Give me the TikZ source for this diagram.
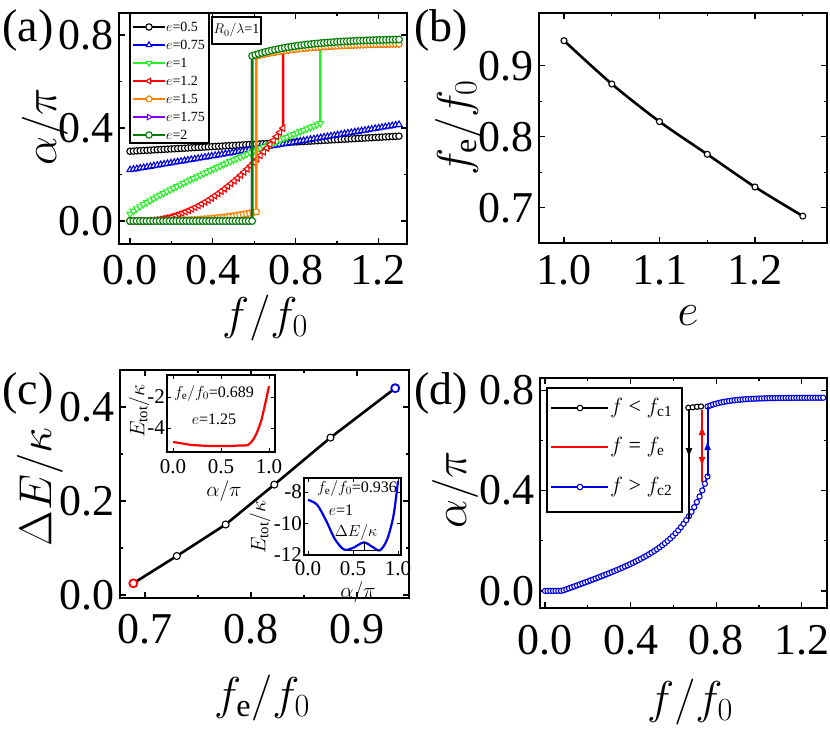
\documentclass[tikz,border=0pt]{standalone}
\usepackage{fix-cm}
\usepackage{fontspec}
\setmainfont{Liberation Serif}
\newfontfamily\tms{Liberation Serif}
\usetikzlibrary{plotmarks}
\usetikzlibrary{arrows.meta}
\definecolor{dkgreen}{RGB}{0,125,0}
\definecolor{ltgreen}{RGB}{40,240,40}
\definecolor{orng}{RGB}{255,130,0}
\definecolor{vio}{RGB}{130,0,255}
\definecolor{myblue}{RGB}{0,0,230}
\tikzset{
  frame/.style={line width=1.8pt},
  tick/.style={line width=1.3pt},
  curve/.style={line width=2.6pt},
  mk/.style={mark options={fill=white,solid,line width=1.1pt,rotate=#1}},
  mk/.default=0,
  ticklab/.style={font=\tms\fontsize{44}{46}\selectfont},
  axlab/.style={font=\tms\fontsize{46}{48}\selectfont},
  panlab/.style={font=\tms\fontsize{46}{48}\selectfont},
  leglab/.style={font=\tms\fontsize{14}{15}\selectfont,anchor=west,inner sep=1pt},
  inlab/.style={font=\tms\fontsize{21}{22}\selectfont},
  intext/.style={font=\tms\fontsize{16}{17}\selectfont,inner sep=0pt}
}
\begin{document}
\begin{tikzpicture}[x=1pt,y=-1pt]
\useasboundingbox (0,0) rectangle (830,735);
% ---------- (a)
\node[panlab] (laba) at (28,30) {(a)};
\draw[frame] (119,13) rectangle (407,244);
\foreach \v/\l in {0/0.0,0.4/0.4,0.8/0.8,1.2/1.2} {
  \draw[tick] ({130+207*\v},244) -- ++(0,-6) ({130+207*\v},13) -- ++(0,6);
  \node[ticklab] at ({130+207*\v},270) {\l};}
\foreach \v in {0.2,0.6,1.0} \draw[tick] ({130+207*\v},244) -- ++(0,-3) ({130+207*\v},13) -- ++(0,3);
\foreach \v/\l in {0/0.0,0.4/0.4,0.8/0.8} {
  \draw[tick] (119,{221-232.5*\v}) -- ++(6,0) (407,{221-232.5*\v}) -- ++(-6,0);
  \node[ticklab,anchor=east] at (117,{221-232.5*\v}) {\l};}
\foreach \v in {0.2,0.6} \draw[tick] (119,{221-232.5*\v}) -- ++(3,0) (407,{221-232.5*\v}) -- ++(-3,0);
\node[axlab,rotate=90] (ya) at (45,127) {$\alpha/\pi$};
\node[axlab] (xa) at (265,318) {$f/f_0$};
% curves
\draw[curve,black] plot[mk,mark=*,mark size=3.2pt,domain=0:1.3,samples=80] ({130+207*\x},{221-232.5*(0.3+0.05*\x)});
\draw[curve,myblue] plot[mk,mark=triangle*,mark size=3.6pt,domain=0:1.3,samples=80] ({130+207*\x},{221-232.5*(0.22+0.15*\x)});
\draw[curve,ltgreen] plot[mk=180,mark=triangle*,mark size=3.6pt,domain=0:0.92,samples=58] ({130+207*\x},{221-232.5*(0.03+0.39*(\x/0.92)^0.85)})
  -- (320.4,46.9);
\draw[curve,red] plot[mk=90,mark=triangle*,mark size=3.6pt,domain=0:0.74,samples=48] ({130+207*\x},{221-232.5*(0.4*(max(\x-0.05,0)/0.69)^2)})
  -- (283.2,50.8);
\draw[curve,orng] plot[mk,mark=pentagon*,mark size=3.4pt,domain=0:0.61,samples=40] ({130+207*\x},{221-232.5*(0.04*(\x/0.61)^3)})
  -- (256.3,56);
\foreach \c in {ltgreen,red,orng}
  \draw[curve,\c] plot[mk,mark=*,mark size=3pt,domain=0.61:1.3,samples=45] ({130+207*\x},{221-232.5*(0.765-0.06*exp(-4*(\x-0.59)))});
\draw[curve,vio] plot[mk=-90,mark=triangle*,mark size=3.4pt,domain=0:0.59,samples=38] ({130+207*\x},221) -- (252.1,56);
\draw[curve,dkgreen] plot[mk,mark=*,mark size=3.4pt,domain=0:0.59,samples=38] ({130+207*\x},221) -- (252.1,56);
\draw[curve,dkgreen] plot[mk,mark=*,mark size=3.4pt,domain=0.59:1.3,samples=46] ({130+207*\x},{221-232.5*(0.785-0.075*exp(-4*(\x-0.59)))});
% legend (a)
\draw[frame,fill=white] (130,13) rectangle (209,143);
\foreach \y/\c/\m/\r/\t [count=\i] in {27/black/*/0/0.5, 45/myblue/triangle*/0/0.75, 63/ltgreen/triangle*/180/1, 81/red/triangle*/90/1.2, 99/orng/pentagon*/0/1.5, 117/vio/triangle*/-90/1.75, 135/dkgreen/*/0/2} {
  \draw[curve,\c] (133,\y) -- (165,\y);
  \path[\c] plot[mk=\r,mark=\m,mark size=3.2pt] coordinates {(149,\y)};
  \node[leglab] (lega\i) at (165,\y) {$e$=\t};}
\draw[frame,fill=white] (212,17) rectangle (261,44);
\node[leglab,anchor=center] (ratio) at (236.5,30.5) {$R_0/\lambda$=1};
% ---------- (b)
\node[panlab] (labb) at (441,30) {(b)};
\draw[frame] (539,13) rectangle (827,243);
\foreach \v in {1.0,1.1,1.2} {
  \draw[tick] ({564+955*(\v-1)},243) -- ++(0,-6) ({564+955*(\v-1)},13) -- ++(0,6);
  \node[ticklab] at ({564+955*(\v-1)},270) {\v};}
\foreach \v in {1.05,1.15,1.25} \draw[tick] ({564+955*(\v-1)},243) -- ++(0,-3) ({564+955*(\v-1)},13) -- ++(0,3);
\foreach \v in {0.7,0.8,0.9} {
  \draw[tick] (539,{136.7-710*(\v-0.8)}) -- ++(6,0) (827,{136.7-710*(\v-0.8)}) -- ++(-6,0);
  \node[ticklab,anchor=east] at (537,{136.7-710*(\v-0.8)}) {\v};}
\foreach \v in {0.75,0.85} \draw[tick] (539,{136.7-710*(\v-0.8)}) -- ++(3,0) (827,{136.7-710*(\v-0.8)}) -- ++(-3,0);
\node[axlab,rotate=90] (yb) at (458,128) {$f_{\mathrm{e}}/f_0$};
\node[axlab] (xb) at (688,316) {$e$};
\draw[curve,black] plot[smooth,mk,mark=*,mark size=3pt] coordinates {(564,40.7) (611.8,84.0) (659.5,121.6) (707.3,154.3) (755,187) (802.8,216.1)};
% ---------- (c)
\node[panlab] (labc) at (28,393) {(c)};
\draw[frame] (120,370) rectangle (409,598);
\foreach \v in {0.7,0.8,0.9} {
  \draw[tick] ({145+1060*(\v-0.7)},598) -- ++(0,-6) ({145+1060*(\v-0.7)},370) -- ++(0,6);
  \node[ticklab] at ({145+1060*(\v-0.7)},629) {\v};}
\foreach \v in {0.75,0.85} \draw[tick] ({145+1060*(\v-0.7)},598) -- ++(0,-3) ({145+1060*(\v-0.7)},370) -- ++(0,3);
\foreach \v/\l in {0/0.0,0.2/0.2,0.4/0.4} {
  \draw[tick] (120,{595-470*\v}) -- ++(6,0) (409,{595-470*\v}) -- ++(-6,0);
  \node[ticklab,anchor=east] at (118,{595-470*\v}) {\l};}
\foreach \v in {0.1,0.3} \draw[tick] (120,{595-470*\v}) -- ++(3,0) (409,{595-470*\v}) -- ++(-3,0);
\node[axlab,rotate=90] (yc) at (40,487) {$\Delta E/\kappa$};
\node[axlab] (xc) at (262,698) {$f_{\mathrm{e}}/f_0$};
\draw[curve,black] plot[mk,mark=*,mark size=3.5pt] coordinates {(133.3,583.3) (176.8,556) (225.6,524.5) (274.3,484.6) (330.5,437.6) (395.2,388.2)};
\draw[red,line width=1.8pt,fill=white] (133.3,583.3) circle (4);
\draw[myblue,line width=1.8pt,fill=white] (395.2,388.2) circle (4);
% inset 1
\draw[line width=1.2pt,fill=white] (167,375) rectangle (275,452);
\foreach \v/\l in {0/0.0,0.5/0.5,1/1.0} {
  \draw[tick,line width=0.9pt] ({173+96*\v},452) -- ++(0,-4) ({173+96*\v},375) -- ++(0,4);
  \node[inlab] at ({173+96*\v},467) {\l};}
\foreach \v/\l in {-2/-2,-4/-4} {
  \draw[tick,line width=0.9pt] (167,{397-15.5*(\v+2)}) -- ++(4,0) (275,{397-15.5*(\v+2)}) -- ++(-4,0);
  \node[inlab,anchor=east,inner sep=1pt] at (166,{397-15.5*(\v+2)}) {\l};}
\node[inlab,rotate=90] (yi1) at (139,411) {$E_{\mathrm{tot}}/\kappa$};
\node[inlab] (xi1) at (224,491) {$\alpha/\pi$};
\node[intext] (fe1) at (214,393) {$f_{\mathrm{e}}/f_0$=0.689};
\node[intext] (e1) at (214,419) {$e$=1.25};
\draw[red,line width=2.2pt] plot[smooth] coordinates {(173,442) (182.6,443.5) (192.2,445) (211.4,446) (230.6,446) (240.2,445.4) (247.9,445) (254.6,437.3) (261.3,420.3) (269,386.2)};
% inset 2
\draw[line width=1.2pt,fill=white] (304,478) rectangle (401,555);
\foreach \v/\l in {0/0.0,0.5/0.5,1/1.0} {
  \draw[tick,line width=0.9pt] ({308+90*\v},555) -- ++(0,-4) ({308+90*\v},478) -- ++(0,4);
  \node[inlab] at ({308+90*\v},569) {\l};}
\foreach \v/\l in {-8/-8,-10/-10,-12/-12} {
  \draw[tick,line width=0.9pt] (304,{492-15.75*(\v+8)}) -- ++(4,0) (401,{492-15.75*(\v+8)}) -- ++(-4,0);
  \node[inlab,anchor=east,inner sep=1pt] at (303,{492-15.75*(\v+8)}) {\l};}
\node[inlab,rotate=90] (yi2) at (260,527) {$E_{\mathrm{tot}}/\kappa$};
\node[inlab] (xi2) at (358,592) {$\alpha/\pi$};
\node[intext] (fe2) at (357,488) {$f_{\mathrm{e}}/f_0$=0.936};
\node[intext] (e2) at (341,510) {$e$=1};
\node[intext] (de2) at (356,532) {$\Delta E/\kappa$};
\draw[myblue,line width=2.2pt] plot[smooth] coordinates {(308,499.9) (317,504.6) (326,520.4) (335,539.3) (344,549.5) (353,547.9) (363.8,542.4) (372.8,547.1) (380,550.3) (387.2,539.3) (393.5,515.6) (398,481)};
\draw[line width=0.5pt] (347,550.3) -- (380,550.3) (363.8,542.4) -- (363.8,550.3);
% ---------- (d)
\node[panlab] (labd) at (441,393) {(d)};
\draw[frame] (540,378) rectangle (827,608);
\foreach \v/\l in {0/0.0,0.4/0.4,0.8/0.8,1.2/1.2} {
  \draw[tick] ({545+214*\v},608) -- ++(0,-6) ({545+214*\v},378) -- ++(0,6);
  \node[ticklab] at ({545+214*\v},640) {\l};}
\foreach \v in {0.2,0.6,1.0} \draw[tick] ({545+214*\v},608) -- ++(0,-3) ({545+214*\v},378) -- ++(0,3);
\foreach \v/\l in {0/0.0,0.4/0.4,0.8/0.8} {
  \draw[tick] (540,{591-251*\v}) -- ++(6,0) (827,{591-251*\v}) -- ++(-6,0);
  \node[ticklab,anchor=east] at (538,{591-251*\v}) {\l};}
\foreach \v in {0.2,0.6} \draw[tick] (540,{591-251*\v}) -- ++(3,0) (827,{591-251*\v}) -- ++(-3,0);
\node[axlab,rotate=90] (yd) at (455,490) {$\alpha/\pi$};
\node[axlab] (xd) at (690,702) {$f/f_0$};
\draw[line width=1.6pt,myblue] plot[mk,mark=*,mark size=2.6pt,domain=0:0.76,samples=62] ({545+214*\x},{591-251*(max(0,0.3*(\x-0.08))+0.0004*exp(8.5*\x))});
\draw[line width=1.6pt,myblue] plot[mk,mark=*,mark size=2.6pt,domain=0.76:1.3,samples=44] ({545+214*\x},{591-251*(0.77-0.035*exp(-10*(\x-0.76)))});
\draw[line width=1.6pt,black] plot[mk,mark=*,mark size=2.6pt] coordinates {(688.4,407.8) (692.7,407.3) (697,406.8) (701,406.5)};
\coordinate (bktop) at (689,409);
\coordinate (bkbot) at (689,519);
\coordinate (rdtop) at (702,410);
\coordinate (rdbot) at (702,482);
\coordinate (rdmid) at (702,446);
\coordinate (bltop) at (707.6,406.5);
\coordinate (blbot) at (707.6,475.5);
\draw[line width=1.5pt,black] (bktop) -- (bkbot);
\draw[line width=1.5pt,black,-{Latex[length=10pt,width=7pt]}] (bktop) -- (689,458);
\draw[line width=2pt,red] (rdtop) -- (rdbot);
\draw[line width=2pt,red,-{Latex[length=10pt,width=7pt]}] (rdmid) -- (702,425);
\draw[line width=2pt,red,-{Latex[length=10pt,width=7pt]}] (rdmid) -- (702,467);
\draw[line width=2pt,myblue] (blbot) -- (bltop);
\draw[line width=2pt,myblue,-{Latex[length=10pt,width=7pt]}] (blbot) -- (707.6,440);
% legend (d)
\draw[line width=1.2pt,fill=white] (547,388) rectangle (682,512);
\foreach \y/\c/\t [count=\i] in {408/black/{$f$ < $f_{\mathrm{c1}}$}, 447/red/{$f$ = $f_{\mathrm{e}}$}, 487/myblue/{$f$ > $f_{\mathrm{c2}}$}} {
  \draw[line width=2.4pt,\c] (551,\y) -- (608,\y);
  \node[leglab,font=\tms\fontsize{22}{23}\selectfont] (legd\i) at (609,\y) {\t};}
\path[black] plot[mk,mark=*,mark size=2.8pt] coordinates {(580,408)};
\path[myblue] plot[mk,mark=*,mark size=2.8pt] coordinates {(580,487)};
\end{tikzpicture}
\end{document}
